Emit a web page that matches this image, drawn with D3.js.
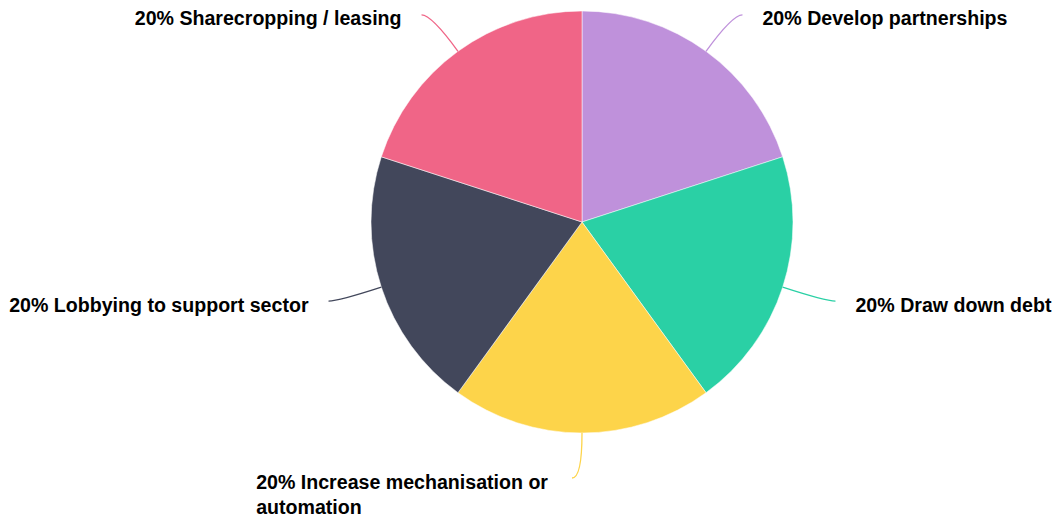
<!DOCTYPE html>
<html>
<head>
<meta charset="utf-8">
<script src="https://cdn.jsdelivr.net/npm/d3@7"></script>
<style>
html,body{margin:0;padding:0;background:#fff;}
svg{display:block;}
text{font-family:"Liberation Sans",Arial,Helvetica,sans-serif;font-weight:bold;fill:#000;}
</style>
</head>
<body>
<svg id="chart" width="1061" height="523"></svg>
<script>
const categories = ["Develop partnerships","Draw down debt","Increase mechanisation or automation","Lobbying to support sector","Sharecropping / leasing"];
const values = [20,20,20,20,20];
const colors = ["#bf91db","#2ad0a5","#fdd44a","#42475b","#f06587"];

const W = 1061, H = 523;
const cx = 582, cy = 222, R = 211;
const fontSize = 19.6, lineH = 25, maxW = 310;

const svg = d3.select("#chart");
const g = svg.append("g").attr("transform", `translate(${cx},${cy})`);

const data = categories.map((c,i)=>({name:c, value:values[i], color:colors[i]}));
const pie = d3.pie().value(d=>d.value).sort(null);
const arc = d3.arc().innerRadius(0).outerRadius(R);
const arcs = pie(data);

g.selectAll("path.slice").data(arcs).join("path")
  .attr("class","slice")
  .attr("d", arc)
  .attr("fill", d=>d.data.color)
  .attr("stroke","rgba(255,255,255,0.5)")
  .attr("stroke-width",1);

const meas = svg.append("text").attr("font-size",fontSize).attr("visibility","hidden");
function tw(s){ meas.text(s); return meas.node().getComputedTextLength(); }
function wrap(s){
  const words = s.split(" "); const lines=[]; let cur="";
  words.forEach(w=>{
    const t = cur ? cur+" "+w : w;
    if (tw(t) > maxW && cur){ lines.push(cur); cur=w; } else cur=t;
  });
  if(cur) lines.push(cur);
  return lines;
}

const L1 = 45, L2 = 10, gap = 20;
arcs.forEach(a=>{
  const mid = (a.startAngle + a.endAngle)/2;
  const dx = Math.sin(mid), dy = -Math.cos(mid);
  const A = [R*dx, R*dy];
  const C = [A[0] + L1*dx, A[1] + L1*dy];
  const right = dx > 0.001;
  const sgn = right ? 1 : -1;
  const E = [C[0] + sgn*L2, C[1]];
  g.append("path")
    .attr("d", `M${A[0]},${A[1]} Q${C[0]},${C[1]} ${E[0]},${E[1]}`)
    .attr("fill","none")
    .attr("stroke", a.data.color)
    .attr("stroke-width",1.3);
  const lines = wrap(`${a.data.value}% ${a.data.name}`);
  const widths = lines.map(tw);
  const bw = d3.max(widths);
  const x0 = right ? E[0] + gap : E[0] - gap - bw - (lines.length > 1 ? 4 : 0);
  const t = g.append("text")
    .attr("font-size", fontSize)
    .attr("x", x0)
    .attr("y", E[1] + 3.5)
    .attr("dominant-baseline","central");
  lines.forEach((ln,i)=>{
    t.append("tspan").attr("x", x0).attr("dy", i===0 ? 0 : lineH).text(ln);
  });
});
meas.remove();
</script>
</body>
</html>
